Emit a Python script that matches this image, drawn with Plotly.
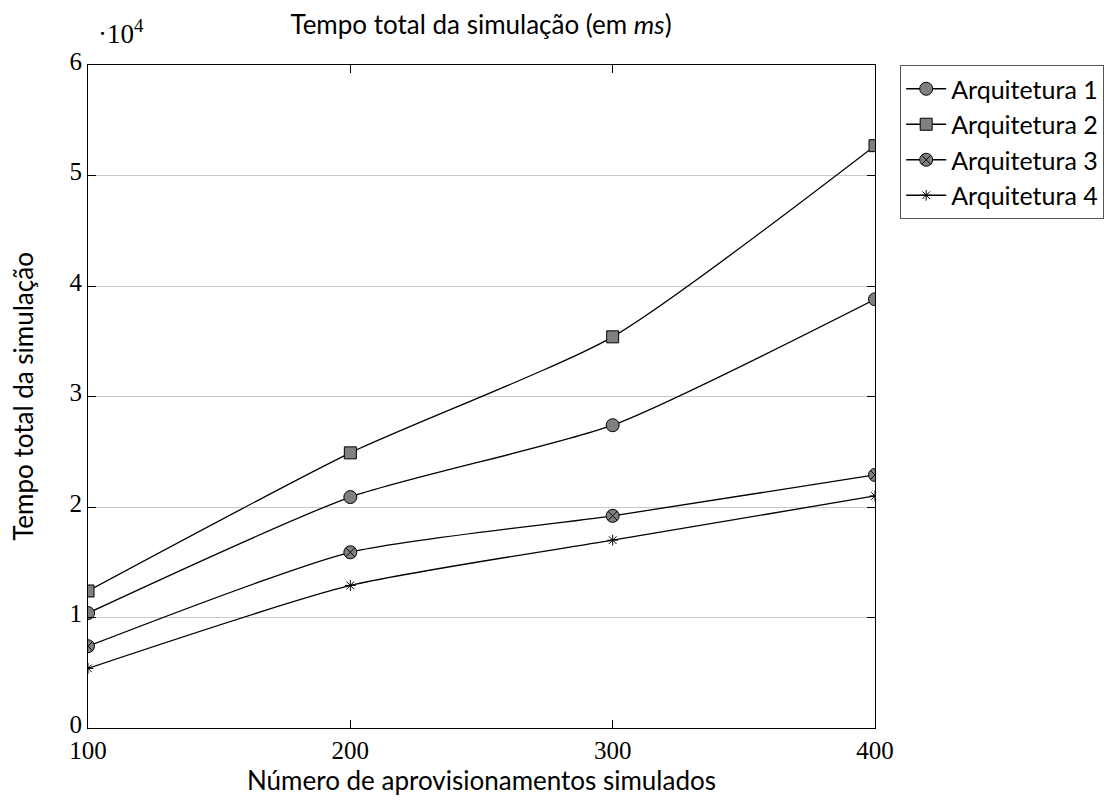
import plotly.graph_objects as go

x_vals = [100, 200, 300, 400]
arq1 = [10400, 20900, 27400, 38800]
arq2 = [12400, 24900, 35400, 52700]
arq3 = [7400, 15900, 19200, 22900]
arq4 = [5400, 12900, 17000, 21000]
series_names = ["Arquitetura 1", "Arquitetura 2", "Arquitetura 3", "Arquitetura 4"]
x_ticks = [100, 200, 300, 400]
y_ticks = [0, 1, 2, 3, 4, 5, 6]

SANS = "Lato"
SERIF = "Liberation Serif"

symbols = ["circle", "square", "circle-x", "asterisk-open"]
sizes = [13, 12, 13, 9]
colors = ["#808080", "#808080", "#808080", "black"]

fig = go.Figure()
for name, vals, sym, sz, col in zip(series_names, [arq1, arq2, arq3, arq4], symbols, sizes, colors):
    fig.add_trace(go.Scatter(
        x=x_vals, y=[v / 1e4 for v in vals], name=name, mode="lines+markers",
        line=dict(color="black", width=1.3, shape="spline", smoothing=0.6),
        marker=dict(symbol=sym, size=sz, color=col,
                    line=dict(color="black", width=1)),
    ))

fig.update_layout(
    width=1120, height=807,
    margin=dict(l=88, r=245, t=65, b=79),
    paper_bgcolor="white", plot_bgcolor="white",
    showlegend=True,
    legend=dict(x=1.032, y=1.0, xanchor="left", yanchor="top",
                bordercolor="#555555", borderwidth=1,
                font=dict(family=SANS, size=25, color="black"),
                tracegroupgap=0, itemwidth=40),
    title=dict(text="Tempo total da simulação (em <i>ms</i>)", x=0.4295, xanchor="center",
               y=0.969, yanchor="middle",
               font=dict(family=SANS, size=26, color="black")),
)

fig.update_xaxes(range=[100, 400], tickvals=x_ticks, ticktext=[str(t) for t in x_ticks],
                 showgrid=False, zeroline=False, showline=True, linecolor="black", linewidth=1,
                 mirror="ticks", ticks="inside", ticklen=8, tickcolor="black",
                 tickfont=dict(family=SERIF, size=25, color="black"),
                 title=dict(text="Número de aprovisionamentos simulados",
                            font=dict(family=SANS, size=26, color="black"), standoff=8))
fig.update_yaxes(range=[0, 6], tickvals=y_ticks, ticktext=[str(t) for t in y_ticks],
                 showgrid=True, gridcolor="#c8c8c8", gridwidth=1,
                 zeroline=False, showline=True, linecolor="black", linewidth=1,
                 mirror="ticks", ticks="inside", ticklen=8, tickcolor="black",
                 ticklabelshift=-4,
                 tickfont=dict(family=SERIF, size=25, color="black"),
                 title=dict(text="Tempo total da simulação",
                            font=dict(family=SANS, size=26, color="black"), standoff=28))

fig.add_annotation(x=0, y=1, xref="paper", yref="paper", xanchor="left", yanchor="bottom",
                   xshift=8, yshift=14, showarrow=False,
                   text="·10<sup>4</sup>", font=dict(family=SERIF, size=27, color="black"))

fig.write_html("out.html")
